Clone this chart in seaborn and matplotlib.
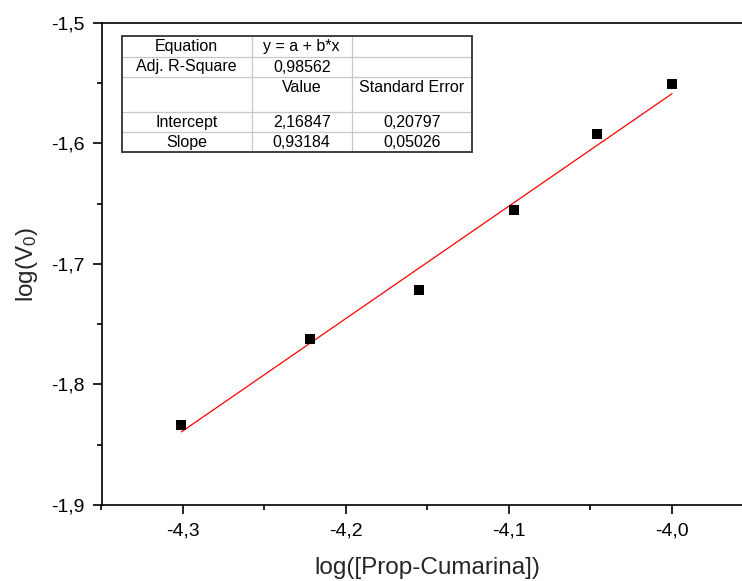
import matplotlib
matplotlib.use("Agg")
import matplotlib.pyplot as plt
from matplotlib.lines import Line2D
from matplotlib.patches import Rectangle
from matplotlib.ticker import MultipleLocator, FixedLocator, FuncFormatter
import pandas as pd
import seaborn as sns

# Measured points: log of Prop-Cumarina concentration vs. log of initial rate
log_conc = [-4.301, -4.222, -4.155, -4.097, -4.046, -4.000]
log_v0 = [-1.834, -1.762, -1.722, -1.655, -1.592, -1.551]

# Linear fit results (y = a + b*x)
intercept = 2.16847
intercept_err = 0.20797
slope = 0.93184
slope_err = 0.05026
adj_r2 = 0.98562

x_ticks = [-4.3, -4.2, -4.1, -4.0]
y_ticks = [-1.9, -1.8, -1.7, -1.6, -1.5]

sns.set_style("ticks")
plt.rcParams["font.family"] = ["Liberation Sans", "DejaVu Sans"]
plt.rcParams["mathtext.fontset"] = "custom"
plt.rcParams["mathtext.rm"] = "Liberation Sans"
plt.rcParams["mathtext.it"] = "Liberation Sans:italic"

W, H = 742, 581
fig = plt.figure(figsize=(W / 100, H / 100), dpi=100)
fig.patch.set_facecolor("white")
ax = fig.add_axes([101.5 / W, 1 - 505 / H, 652 / W, 482.3 / H])
ax.set_facecolor("white")

df = pd.DataFrame({"x": log_conc, "y": log_v0})

# fitted line over the measured range
x_fit = [min(log_conc), max(log_conc)]
y_fit = [intercept + slope * v for v in x_fit]
sns.lineplot(x=x_fit, y=y_fit, color="#ff0000", linewidth=0.9, ax=ax, zorder=2)

sns.scatterplot(data=df, x="x", y="y", marker="s", s=62, color="black",
                linewidth=0, ax=ax, zorder=3)

ax.set_xlim(-4.35, -3.95)
ax.set_ylim(-1.9, -1.5)

comma = FuncFormatter(lambda v, p: f"{v:.1f}".replace(".", ","))
ax.xaxis.set_major_locator(FixedLocator(x_ticks))
ax.yaxis.set_major_locator(FixedLocator(y_ticks))
ax.xaxis.set_minor_locator(MultipleLocator(0.05))
ax.yaxis.set_minor_locator(MultipleLocator(0.05))
ax.xaxis.set_major_formatter(comma)
ax.yaxis.set_major_formatter(comma)

ax.tick_params(which="major", direction="out", length=6.5, width=1.2,
               labelsize=14, pad=6, color="black", labelcolor="black")
ax.tick_params(which="minor", direction="out", length=3.5, width=1.2, color="black")

for side in ["left", "bottom", "top"]:
    ax.spines[side].set_visible(True)
    ax.spines[side].set_linewidth(1.2)
    ax.spines[side].set_color("black")
ax.spines["right"].set_visible(False)

ax.set_xlabel("log([Prop-Cumarina])", fontsize=17.5, labelpad=13)
ax.set_ylabel(r"log(V$_\mathregular{0}$)", fontsize=17.5, labelpad=8)


# Fit-results table in the upper-left corner (pixel coordinates from top-left)
def fx(px):
    return px / W


def fy(py):
    return 1 - py / H


col_edges = [121.7, 251.7, 351.7, 471.7]
row_edges = [36.0, 57.0, 77.0, 112.3, 132.3, 152.3]
row_text_y = [46.7, 67.0, 87.5, 122.5, 142.0]


def fmt(v):
    return f"{v:.5f}".replace(".", ",")


table_rows = [
    ["Equation", "y = a + b*x", ""],
    ["Adj. R-Square", fmt(adj_r2), ""],
    ["", "Value", "Standard Error"],
    ["Intercept", fmt(intercept), fmt(intercept_err)],
    ["Slope", fmt(slope), fmt(slope_err)],
]

x0, x1 = col_edges[0], col_edges[-1]
y0, y1 = row_edges[0], row_edges[-1]
fig.add_artist(Rectangle((fx(x0), fy(y1)), (x1 - x0) / W, (y1 - y0) / H,
                         transform=fig.transFigure, facecolor="white",
                         edgecolor="none", zorder=5))
for cx in col_edges[1:-1]:
    fig.add_artist(Line2D([fx(cx), fx(cx)], [fy(y0), fy(y1)], color="#c8c8c8",
                          linewidth=0.9, transform=fig.transFigure, zorder=6))
for ry in row_edges[1:-1]:
    fig.add_artist(Line2D([fx(x0), fx(x1)], [fy(ry), fy(ry)], color="#c8c8c8",
                          linewidth=0.9, transform=fig.transFigure, zorder=6))
fig.add_artist(Rectangle((fx(x0), fy(y1)), (x1 - x0) / W, (y1 - y0) / H,
                         transform=fig.transFigure, facecolor="none",
                         edgecolor="#404040", linewidth=1.4, zorder=7))

for r, row in enumerate(table_rows):
    for c, txt in enumerate(row):
        if not txt:
            continue
        cx = (col_edges[c] + col_edges[c + 1]) / 2
        fig.text(fx(cx), fy(row_text_y[r]), txt, ha="center", va="center",
                 fontsize=11.5, color="black", zorder=8)

fig.savefig("out.png", dpi=100)
